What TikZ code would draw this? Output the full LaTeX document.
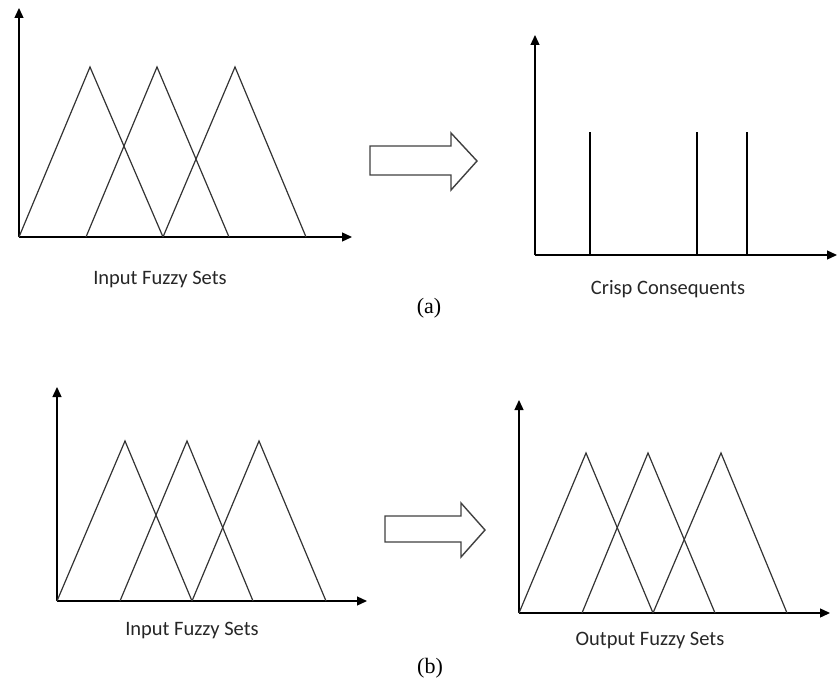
\documentclass[tikz,border=0pt]{standalone}
\usepackage{fontspec}
\setmainfont{Liberation Serif}
\newfontfamily\labelfont{Carlito}
\usetikzlibrary{arrows.meta}
\tikzset{
  axis/.style={line width=1.3pt, black, -{Triangle[length=10pt,width=9pt]}},
  member/.style={line width=1.2pt, black!80},
  base/.style={line width=2.2pt, black!50},
  spike/.style={line width=1.3pt, black},
  blockarrow/.style={line width=1.4pt, black!75, fill=white, line join=miter},
  setlabel/.style={font=\labelfont\fontsize{20.5}{24}\selectfont, text=black!85, inner sep=0pt},
  caption/.style={font=\fontsize{22}{26}\selectfont, inner sep=0pt}
}
\begin{document}
\begin{tikzpicture}[x=1pt,y=-1pt]
\useasboundingbox (0,0) rectangle (837,682);

% ---------- (a) left: input fuzzy sets ----------
\coordinate (oa) at (19,237);
\draw[base] (19,237) -- (306,237);
\draw[axis] (oa) -- (19,8);
\draw[axis] (oa) -- (352,237);
\draw[member] (19,237) -- (90,67) -- (163,237);
\draw[member] (86,237) -- (157,67) -- (229,237);
\draw[member] (163,237) -- (235,67) -- (306,237);
\node[setlabel] (ina) at (160,279) {Input Fuzzy Sets};

% ---------- (a) block arrow ----------
\draw[blockarrow] (370,146) -- (451,146) -- (451,133) -- (477,161)
  -- (451,190) -- (451,175) -- (370,175) -- cycle;

% ---------- (a) right: crisp consequents ----------
\coordinate (ob) at (535,255);
\draw[axis] (ob) -- (535,35);
\draw[axis] (ob) -- (837,255);
\draw[spike] (590,255) -- (590,132);
\draw[spike] (697,255) -- (697,132);
\draw[spike] (747,255) -- (747,132);
\node[setlabel] (crisp) at (668,289) {Crisp Consequents};

\node[caption] (capa) at (429,308) {(a)};

% ---------- (b) left: input fuzzy sets ----------
\coordinate (oc) at (57,601);
\draw[axis] (oc) -- (57,387);
\draw[axis] (oc) -- (367,601);
\draw[member] (57,601) -- (125,441) -- (192,601);
\draw[member] (120,601) -- (187,441) -- (253,601);
\draw[member] (192,601) -- (259,441) -- (326,601);
\node[setlabel] (inb) at (192,630) {Input Fuzzy Sets};

% ---------- (b) block arrow ----------
\draw[blockarrow] (385,516) -- (461,516) -- (461,503) -- (485,530)
  -- (461,557) -- (461,542) -- (385,542) -- cycle;

% ---------- (b) right: output fuzzy sets ----------
\coordinate (od) at (519,613);
\draw[base] (519,613) -- (787,613);
\draw[axis] (od) -- (519,400);
\draw[axis] (od) -- (830,613);
\draw[member] (519,613) -- (586,453) -- (653,613);
\draw[member] (582,613) -- (648,453) -- (715,613);
\draw[member] (653,613) -- (721,453) -- (787,613);
\node[setlabel] (outb) at (650,640) {Output Fuzzy Sets};

\node[caption] (capb) at (430,668) {(b)};
\end{tikzpicture}
\end{document}
